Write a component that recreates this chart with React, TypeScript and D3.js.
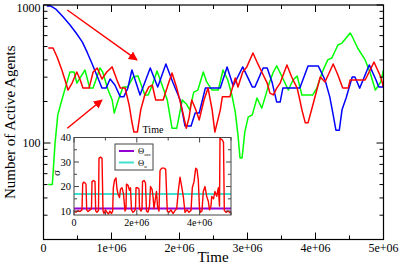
import React from "react";
import * as d3 from "d3";

// ---------- data (time in units of 1e6) ----------
const blueSeries: [number, number][] = [
  [0.05, 983], [0.11, 983], [0.18, 935], [0.29, 819], [0.39, 716], [0.48, 627], [0.57, 540],
  [0.64, 457], [0.71, 380], [0.77, 322], [0.83, 272], [0.86, 250], [0.92, 250], [0.98, 291],
  [1.05, 263], [1.13, 216], [1.18, 216], [1.24, 250], [1.30, 338], [1.42, 223], [1.57, 350],
  [1.68, 255], [1.80, 374], [1.90, 277], [2.01, 205], [2.08, 133], [2.17, 133], [2.23, 165],
  [2.29, 165], [2.38, 250], [2.60, 250], [2.70, 356], [2.79, 259], [2.93, 356], [3.07, 255],
  [3.11, 255], [3.23, 350], [3.29, 350], [3.36, 277], [3.43, 198], [3.48, 198], [3.52, 250],
  [3.77, 250], [3.89, 362], [4.04, 362], [4.14, 286], [4.21, 216], [4.26, 160], [4.30, 124],
  [4.35, 124], [4.39, 174], [4.45, 212], [4.54, 301], [4.58, 301], [4.65, 250], [4.79, 368],
  [4.89, 286], [4.93, 255], [4.99, 255], [5.03, 311],
];

const redSeries: [number, number][] = [
  [0.07, 488], [0.14, 488], [0.20, 420], [0.27, 338], [0.33, 272], [0.36, 242], [0.42, 272],
  [0.49, 327], [0.54, 286], [0.58, 250], [0.67, 250], [0.73, 327], [0.79, 350], [0.86, 291],
  [0.93, 327], [1.01, 356], [1.08, 286], [1.13, 250], [1.20, 250], [1.26, 188], [1.30, 142],
  [1.33, 120], [1.38, 120], [1.43, 174], [1.49, 223], [1.55, 255], [1.60, 263], [1.65, 205],
  [1.76, 205], [1.83, 263], [1.89, 322], [1.96, 250], [2.04, 174], [2.10, 128], [2.14, 152],
  [2.18, 205], [2.24, 174], [2.29, 147], [2.36, 205], [2.42, 250], [2.48, 174], [2.52, 120],
  [2.60, 174], [2.63, 216], [2.74, 216], [2.82, 296], [2.86, 255], [2.93, 327], [2.99, 356],
  [3.08, 449], [3.14, 386], [3.21, 327], [3.29, 272], [3.33, 230], [3.38, 223], [3.43, 250],
  [3.48, 272], [3.58, 368], [3.65, 301], [3.73, 250], [3.77, 205], [3.80, 174], [3.85, 140],
  [3.89, 140], [3.96, 188], [4.07, 301], [4.14, 277], [4.26, 374], [4.33, 311], [4.40, 250],
  [4.48, 250], [4.51, 286], [4.73, 286], [4.86, 386], [4.96, 301], [5.02, 234],
];

const greenSeries: [number, number][] = [
  [0.07, 50], [0.13, 50], [0.17, 100], [0.21, 160], [0.27, 205], [0.32, 250], [0.39, 327],
  [0.45, 327], [0.49, 272], [0.61, 338], [0.68, 250], [0.73, 250], [0.83, 350], [0.87, 327],
  [0.95, 242], [1.01, 205], [1.04, 165], [1.10, 205], [1.17, 255], [1.24, 255], [1.32, 301],
  [1.39, 306], [1.49, 223], [1.54, 223], [1.60, 263], [1.67, 332], [1.74, 267], [1.82, 205],
  [1.89, 128], [1.96, 128], [2.04, 205], [2.10, 192], [2.15, 174], [2.21, 234], [2.27, 242],
  [2.35, 327], [2.40, 277], [2.48, 242], [2.57, 242], [2.64, 338], [2.71, 286], [2.77, 223],
  [2.82, 168], [2.86, 114], [2.89, 78], [2.92, 78], [2.96, 120], [3.01, 154], [3.07, 160],
  [3.14, 212], [3.21, 179], [3.26, 216], [3.32, 272], [3.38, 327], [3.43, 362], [3.51, 301],
  [3.60, 242], [3.67, 286], [3.73, 306], [3.80, 223], [3.96, 223], [4.02, 250], [4.10, 327],
  [4.18, 400], [4.24, 413], [4.33, 513], [4.39, 530], [4.51, 627], [4.55, 577], [4.62, 488],
  [4.73, 400], [4.80, 327], [4.88, 242], [4.96, 277], [5.00, 338], [5.04, 327],
];

// sigma series for the inset
const sigmaSeries: [number, number][] = [
  [0.016, 10], [0.064, 9.5], [0.127, 10.2], [0.191, 9.8], [0.255, 10.5], [0.277, 21], [0.303, 21.8],
  [0.350, 21.5], [0.382, 21], [0.404, 10.5], [0.446, 9.8], [0.510, 10.5], [0.557, 11], [0.573, 22],
  [0.621, 22.5], [0.669, 22], [0.691, 10], [0.732, 9.5], [0.780, 10.2], [0.796, 31.5], [0.844, 32],
  [0.892, 31.5], [0.924, 10], [0.955, 9], [1.003, 10.5], [1.051, 9.5], [1.099, 8.8], [1.146, 10],
  [1.194, 9], [1.232, 10], [1.252, 19.5], [1.290, 22.5], [1.338, 23.5], [1.369, 19], [1.401, 17],
  [1.449, 15.5], [1.481, 19], [1.529, 19.5], [1.576, 17], [1.624, 10], [1.656, 11], [1.672, 21],
  [1.720, 20.5], [1.768, 18.5], [1.799, 19.5], [1.831, 10.5], [1.879, 9.5], [1.927, 10], [1.959, 11],
  [1.975, 19.5], [2.022, 19.5], [2.070, 19], [2.086, 11], [2.134, 10], [2.166, 11], [2.182, 22],
  [2.229, 22.5], [2.277, 21.5], [2.309, 10], [2.357, 9.6], [2.404, 12], [2.436, 20], [2.484, 19],
  [2.516, 16], [2.548, 11], [2.580, 14], [2.627, 18], [2.659, 12], [2.707, 10], [2.739, 26.5],
  [2.793, 27.5], [2.876, 27.5], [2.920, 27], [2.971, 10], [3.025, 9.5], [3.089, 10.5], [3.153, 9],
  [3.217, 10.2], [3.271, 11], [3.322, 18.3], [3.376, 23.8], [3.430, 20], [3.481, 16], [3.535, 9.5],
  [3.599, 10.5], [3.662, 9.5], [3.726, 10.2], [3.768, 19.5], [3.822, 22], [3.876, 27.5], [3.917, 27],
  [3.959, 22.5], [3.997, 11], [4.029, 9.5], [4.076, 10], [4.118, 18], [4.172, 20], [4.226, 16],
  [4.277, 14], [4.315, 10.5], [4.363, 12], [4.385, 16], [4.443, 15], [4.490, 18], [4.545, 16],
  [4.596, 19.5], [4.634, 12], [4.650, 39.7], [4.723, 39], [4.761, 38], [4.787, 10.3], [4.841, 9.5],
  [4.904, 10], [4.968, 9.3], [5.0, 10],
];

const thetaOcc = 11;
const thetaU = 17;

// arrows: [t0, v0, t1, v1]
const arrows: [number, number, number, number][] = [
  [0.35, 920, 1.375, 400],
  [0.35, 128, 0.86, 205],
];

const xTicks = [0, 1, 2, 3, 4, 5];
const xTickLabels = ["0", "1e+06", "2e+06", "3e+06", "4e+06", "5e+06"];
const yTicks = [100, 1000];
const yTickLabels = ["100", "1000"];
const yMinorTicks = [30, 40, 50, 60, 70, 80, 90, 200, 300, 400, 500, 600, 700, 800, 900];

const insetYTicks = [10, 20, 30, 40];
const insetYLabels = ["10", "20", "30", "40"];
const insetYMinor = [15, 25, 35];
const insetXTicks = [0, 2, 4];
const insetXLabels = ["0", "2e+06", "4e+06"];
const insetXMinor = [1, 3, 5];

const FONT = "'Liberation Serif', 'Times New Roman', serif";

export default function App() {
  const L = 43.5, R = 383.5, T = 5, B = 239.5;
  const x = d3.scaleLinear().domain([0, 5]).range([L, R]);
  const y = d3.scaleLog().domain([20, 1000]).range([B, T]);

  const line = d3
    .line<[number, number]>()
    .x((d) => x(d[0]))
    .y((d) => y(d[1]));

  const IL = 74, IR = 231, IT = 137.5, IB = 215;
  const ix = d3.scaleLinear().domain([0, 5]).range([IL, IR]);
  const iy = d3.scaleLinear().domain([8.4, 40]).range([IB, IT]);
  const iline = d3
    .line<[number, number]>()
    .x((d) => ix(d[0]))
    .y((d) => iy(d[1]));

  const xMinor = d3.range(0.5, 5, 1);

  return (
    <svg
      width={400}
      height={266}
      style={{ position: "absolute", left: 0, top: 0, background: "#fff" }}
      fontFamily={FONT}
    >
      <defs>
        <clipPath id="mainClip">
          <rect x={L} y={T} width={R - L} height={B - T} />
        </clipPath>
        <clipPath id="insetClip">
          <rect x={IL} y={IT} width={IR - IL} height={IB - IT} />
        </clipPath>
        <marker id="arrowHead" viewBox="0 0 10 10" refX="9" refY="5" markerWidth="6" markerHeight="6" orient="auto">
          <path d="M0,0 L10,5 L0,10 z" fill="#ff0000" />
        </marker>
      </defs>
      <rect x={0} y={0} width={400} height={266} fill="#fff" />

      {/* main lines */}
      <g clipPath="url(#mainClip)" fill="none" strokeWidth={1.5} strokeLinejoin="round">
        <path d={line(greenSeries) || ""} stroke="#00ff00" />
        <path d={line(blueSeries) || ""} stroke="#0000ff" />
        <path d={line(redSeries) || ""} stroke="#ff0000" />
      </g>

      {/* arrows */}
      {arrows.map((a, i) => (
        <line
          key={i}
          x1={x(a[0])}
          y1={y(a[1])}
          x2={x(a[2])}
          y2={y(a[3])}
          stroke="#ff0000"
          strokeWidth={1.5}
          markerEnd="url(#arrowHead)"
        />
      ))}

      {/* main frame */}
      <rect x={L} y={T} width={R - L} height={B - T} fill="none" stroke="#000" strokeWidth={1.2} />

      {/* x ticks */}
      {xTicks.map((t, i) => (
        <g key={"xt" + i}>
          <line x1={x(t)} x2={x(t)} y1={B} y2={B - 7} stroke="#000" />
          <line x1={x(t)} x2={x(t)} y1={T} y2={T + 7} stroke="#000" />
          <text x={x(t)} y={252} fontSize={12} textAnchor="middle">
            {xTickLabels[i]}
          </text>
        </g>
      ))}
      {xMinor.map((t, i) => (
        <g key={"xm" + i}>
          <line x1={x(t)} x2={x(t)} y1={B} y2={B - 4} stroke="#000" />
          <line x1={x(t)} x2={x(t)} y1={T} y2={T + 4} stroke="#000" />
        </g>
      ))}

      {/* y ticks */}
      {yTicks.map((v, i) => (
        <g key={"yt" + i}>
          <line x1={L} x2={L + 7} y1={y(v)} y2={y(v)} stroke="#000" />
          <line x1={R} x2={R - 7} y1={y(v)} y2={y(v)} stroke="#000" />
          <text x={L - 3} y={Math.max(y(v) + 4, 11.5)} fontSize={12} textAnchor="end">
            {yTickLabels[i]}
          </text>
        </g>
      ))}
      {yMinorTicks.map((v, i) => (
        <g key={"ym" + i}>
          <line x1={L} x2={L + 4} y1={y(v)} y2={y(v)} stroke="#000" />
          <line x1={R} x2={R - 4} y1={y(v)} y2={y(v)} stroke="#000" />
        </g>
      ))}

      {/* axis titles */}
      <text x={213} y={262} fontSize={15} textAnchor="middle">
        Time
      </text>
      <text
        transform={`translate(15,${(T + B) / 2}) rotate(-90)`}
        fontSize={15}
        textAnchor="middle"
      >
        Number of Active Agents
      </text>

      {/* inset */}
      <rect x={IL} y={IT} width={IR - IL} height={IB - IT} fill="#fff" />
      <g clipPath="url(#insetClip)" fill="none">
        <line x1={IL} x2={IR} y1={iy(thetaU)} y2={iy(thetaU)} stroke="#40e0d0" strokeWidth={2} />
        <line x1={IL} x2={IR} y1={iy(thetaOcc)} y2={iy(thetaOcc)} stroke="#9400d3" strokeWidth={2} />
        <path d={iline(sigmaSeries) || ""} stroke="#ff0000" strokeWidth={1.4} strokeLinejoin="round" />
      </g>
      <rect x={IL} y={IT} width={IR - IL} height={IB - IT} fill="none" stroke="#444" strokeWidth={1} />
      {insetYTicks.map((v, i) => (
        <g key={"iyt" + i}>
          <line x1={IL} x2={IL + 5} y1={iy(v)} y2={iy(v)} stroke="#444" />
          <line x1={IR} x2={IR - 5} y1={iy(v)} y2={iy(v)} stroke="#444" />
          <text x={IL - 3} y={iy(v) + 3.5} fontSize={10.5} textAnchor="end">
            {insetYLabels[i]}
          </text>
        </g>
      ))}
      {insetYMinor.map((v, i) => (
        <g key={"iym" + i}>
          <line x1={IL} x2={IL + 3} y1={iy(v)} y2={iy(v)} stroke="#444" />
          <line x1={IR} x2={IR - 3} y1={iy(v)} y2={iy(v)} stroke="#444" />
        </g>
      ))}
      {insetXTicks.map((t, i) => (
        <g key={"ixt" + i}>
          <line x1={ix(t)} x2={ix(t)} y1={IB} y2={IB - 5} stroke="#444" />
          <line x1={ix(t)} x2={ix(t)} y1={IT} y2={IT + 5} stroke="#444" />
          <text x={ix(t)} y={226} fontSize={10} textAnchor="middle">
            {insetXLabels[i]}
          </text>
        </g>
      ))}
      {insetXMinor.map((t, i) => (
        <g key={"ixm" + i}>
          <line x1={ix(t)} x2={ix(t)} y1={IB} y2={IB - 3} stroke="#444" />
          <line x1={ix(t)} x2={ix(t)} y1={IT} y2={IT + 3} stroke="#444" />
        </g>
      ))}
      <text x={153} y={133} fontSize={10} textAnchor="middle">
        Time
      </text>
      <text transform={`translate(60,173) rotate(-90)`} fontSize={11} textAnchor="middle">
        σ
      </text>

      {/* inset legend */}
      <rect x={115} y={144} width={38} height={26} fill="#fff" stroke="#444" strokeWidth={1} />
      <line x1={119} x2={134} y1={151} y2={151} stroke="#9400d3" strokeWidth={2} />
      <line x1={119} x2={134} y1={162.5} y2={162.5} stroke="#40e0d0" strokeWidth={2} />
      <text x={138} y={154} fontSize={8.5}>
        Θ<tspan fontSize={5} dy={2}>occ</tspan>
      </text>
      <text x={138} y={165.5} fontSize={8.5}>
        Θ<tspan fontSize={5} dy={2}>u</tspan>
      </text>
    </svg>
  );
}
